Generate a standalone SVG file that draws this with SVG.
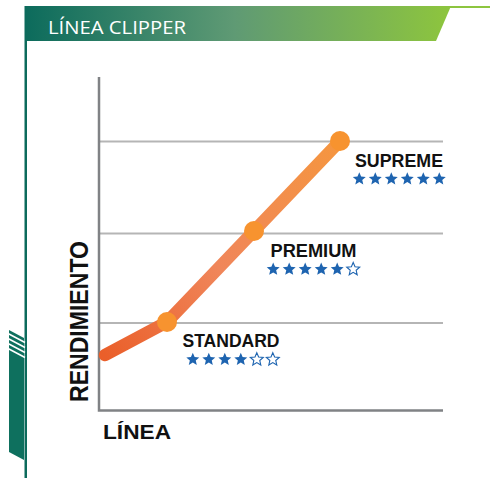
<svg xmlns="http://www.w3.org/2000/svg" width="490" height="478" viewBox="0 0 490 478">
<defs>
<linearGradient id="banner" x1="25" y1="0" x2="490" y2="0" gradientUnits="userSpaceOnUse">
<stop offset="0" stop-color="#0c6b5c"/>
<stop offset="0.45" stop-color="#5f9a74"/>
<stop offset="0.9" stop-color="#8cc43f"/>
<stop offset="1" stop-color="#8dc63f"/>
</linearGradient>
<linearGradient id="curve" x1="104" y1="355" x2="340" y2="141" gradientUnits="userSpaceOnUse">
<stop offset="0" stop-color="#ea5f2a"/>
<stop offset="0.45" stop-color="#f0865a"/>
<stop offset="1" stop-color="#f5963f"/>
</linearGradient>
<path id="star" d="M0,-6.8 L1.82,-2.5 L6.47,-2.1 L2.95,0.96 L4.0,5.5 L0,3.1 L-4.0,5.5 L-2.95,0.96 L-6.47,-2.1 L-1.82,-2.5 Z"/>
<style>
.axis{stroke:#808285;stroke-width:2.5;fill:none}
.grid{stroke:#b5b5b5;stroke-width:2;fill:none}
.lbl{font-family:"Liberation Sans",Arial,sans-serif;font-weight:bold;font-size:18px;fill:#111}
.full{fill:#1e64b0}
.empty{fill:#fff;stroke:#1e64b0;stroke-width:1.1}
.dot{fill:#f7932f}
</style>
</defs>
<rect width="490" height="478" fill="#fff"/>
<g id="header">
<rect x="25" y="6" width="465" height="2" fill="url(#banner)"/>
<polygon points="25,6 451,6 436,41 25,41" fill="url(#banner)"/>
<rect x="24.5" y="6" width="2.5" height="472" fill="#0c6b5c"/>
<text x="48" y="34" font-family="'Open Sans','Liberation Sans',sans-serif" font-size="19" fill="#fff" textLength="138" lengthAdjust="spacingAndGlyphs">LÍNEA CLIPPER</text>
</g>
<g id="side-deco">
<polygon points="9,330 24,338 24,460 9,452" fill="#0e705e"/>
<g stroke="#fff" stroke-width="1.6">
<line x1="8" y1="333.5" x2="25" y2="342.5"/>
<line x1="8" y1="338.5" x2="25" y2="347.5"/>
<line x1="8" y1="343.5" x2="25" y2="352.5"/>
<line x1="8" y1="348.5" x2="25" y2="357.5"/>
</g>
</g>
<g id="chart-axes">
<line class="grid" x1="99" y1="141.5" x2="443" y2="141.5"/>
<line class="grid" x1="99" y1="233.5" x2="443" y2="233.5"/>
<line class="grid" x1="99" y1="323" x2="443" y2="323"/>
<polyline class="axis" points="99,77 99,410.5 443,410.5"/>
<text x="0" y="0" transform="translate(88,402) rotate(-90)" font-family="'Liberation Sans',Arial,sans-serif" font-weight="bold" font-size="26" fill="#111" textLength="161" lengthAdjust="spacingAndGlyphs">RENDIMIENTO</text>
<text x="103" y="438.5" font-family="'Liberation Sans',Arial,sans-serif" font-weight="bold" font-size="21" fill="#111" textLength="68" lengthAdjust="spacingAndGlyphs">LÍNEA</text>
</g>
<g id="connectors">
<polyline points="105,355 167,322 254,231 340,141" fill="none" stroke="url(#curve)" stroke-width="12.5" stroke-linecap="round" stroke-linejoin="round"/>
</g>
<g id="standard">
<circle class="dot" cx="167" cy="322" r="10"/>
<text class="lbl" x="182.5" y="347" textLength="97" lengthAdjust="spacingAndGlyphs">STANDARD</text>
<use href="#star" class="full" x="192.8" y="359.5"/>
<use href="#star" class="full" x="208.8" y="359.5"/>
<use href="#star" class="full" x="224.8" y="359.5"/>
<use href="#star" class="full" x="240.8" y="359.5"/>
<use href="#star" class="empty" x="256.8" y="359.5"/>
<use href="#star" class="empty" x="272.8" y="359.5"/>
</g>
<g id="premium">
<circle class="dot" cx="254" cy="231" r="10"/>
<text class="lbl" x="270.5" y="256.5" textLength="86" lengthAdjust="spacingAndGlyphs">PREMIUM</text>
<use href="#star" class="full" x="273.2" y="269.3"/>
<use href="#star" class="full" x="289.2" y="269.3"/>
<use href="#star" class="full" x="305.2" y="269.3"/>
<use href="#star" class="full" x="321.2" y="269.3"/>
<use href="#star" class="full" x="337.2" y="269.3"/>
<use href="#star" class="empty" x="353.2" y="269.3"/>
</g>
<g id="supreme">
<circle class="dot" cx="340" cy="141" r="10"/>
<text class="lbl" x="355" y="166.5" textLength="88" lengthAdjust="spacingAndGlyphs">SUPREME</text>
<use href="#star" class="full" x="359.3" y="179"/>
<use href="#star" class="full" x="375.3" y="179"/>
<use href="#star" class="full" x="391.3" y="179"/>
<use href="#star" class="full" x="407.3" y="179"/>
<use href="#star" class="full" x="423.3" y="179"/>
<use href="#star" class="full" x="439.3" y="179"/>
</g>
</svg>
